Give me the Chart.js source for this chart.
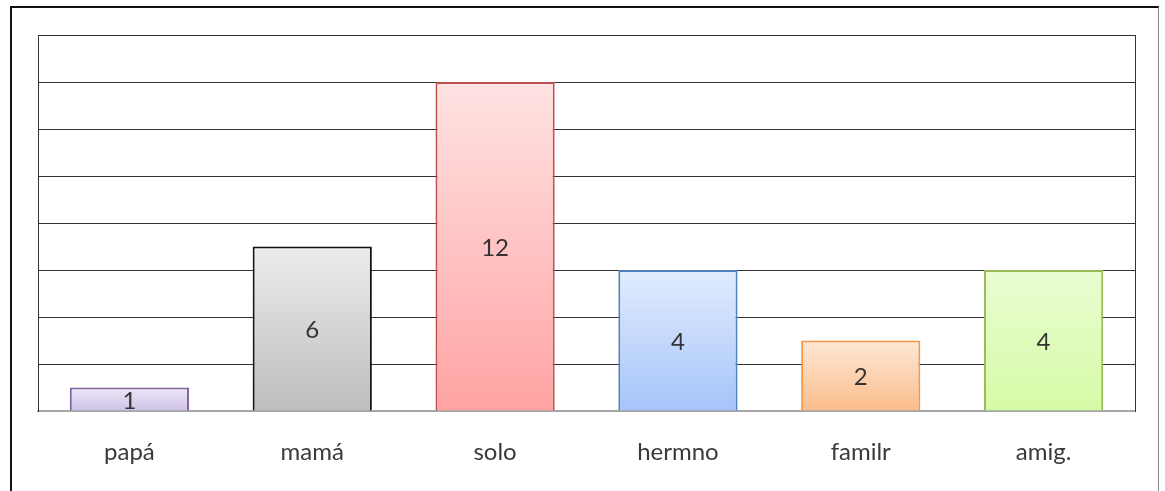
<!DOCTYPE html>
<html>
<head>
<meta charset="utf-8">
<script src="https://cdn.jsdelivr.net/npm/chart.js@4"></script>
<style>
  html, body { margin: 0; padding: 0; background: #fff; }
  #wrap { position: relative; width: 1165px; height: 491px; }
  #frame {
    position: absolute; left: 10px; top: 6px; width: 1149px; height: 490px;
    border-top: 2px solid #111; border-left: 2px solid #111; border-right: 1px solid #888;
    box-sizing: border-box;
  }
  canvas { position: absolute; left: 0; top: 0; }
</style>
</head>
<body>
<div id="wrap">
  <div id="frame"></div>
  <canvas id="chart" width="1165" height="491"></canvas>
</div>
<script>
// categories and values
const categories = ['papá', 'mamá', 'solo', 'hermno', 'familr', 'amig.'];
const barHeights = [1, 7, 14, 6, 3, 6];     // bar heights as drawn (grid step = 2)
const barLabels = ['1', '6', '12', '4', '2', '4']; // numbers printed on the bars
const topColors = ['#ede6f6', '#ececec', '#ffe3e3', '#e2ecfd', '#fde8d6', '#eafcd2'];
const bottomColors = ['#cfc2e8', '#bdbdbd', '#ffa3a3', '#a5c4fa', '#fbbd8b', '#d5fba6'];
const borderColors = ['#8064a2', '#111111', '#c0504d', '#4f81bd', '#f79646', '#9bbb59'];

const FONT = 'Lato, "Open Sans", sans-serif';

// vertical gradient per bar, like the office chart fill
function barFill(ctx) {
    const chart = ctx.chart;
    const y = chart.scales.y;
    if (!chart.chartArea || !y || ctx.dataIndex === undefined) return topColors[0];
    const i = ctx.dataIndex;
    const top = y.getPixelForValue(barHeights[i]);
    const bottom = y.getPixelForValue(0);
    const g = chart.ctx.createLinearGradient(0, top, 0, bottom);
    g.addColorStop(0, topColors[i]);
    g.addColorStop(1, bottomColors[i]);
    return g;
}

const labelPlugin = {
    id: 'barText',
    afterDatasetsDraw(chart) {
        const ctx = chart.ctx;
        const meta = chart.getDatasetMeta(0);
        ctx.save();
        ctx.font = '24px ' + FONT;
        ctx.fillStyle = '#333';
        ctx.textAlign = 'center';
        ctx.textBaseline = 'middle';
        meta.data.forEach((bar, i) => {
            ctx.fillText(barLabels[i], bar.x, (bar.y + bar.base) / 2 + 2);
        });
        ctx.restore();
    }
};

new Chart(document.getElementById('chart'), {
    type: 'bar',
    data: {
        labels: categories,
        datasets: [{
            data: barHeights,
            backgroundColor: barFill,
            borderColor: borderColors,
            borderWidth: 2,
            barPercentage: 0.652,
            categoryPercentage: 1
        }]
    },
    options: {
        responsive: false,
        animation: false,
        layout: { padding: { left: 38, right: 30, top: 35, bottom: 0 } },
        plugins: { legend: { display: false }, tooltip: { enabled: false } },
        scales: {
            x: {
                grid: { display: false, drawTicks: false },
                border: { display: true, color: '#a6a6a6', width: 2 },
                ticks: { color: '#3a3a3a', padding: 27, font: { family: FONT, size: 24 } },
                afterFit(scale) { scale.height = 80; }
            },
            y: {
                min: 0, max: 16,
                ticks: { display: false, stepSize: 2 },
                grid: { color: '#333', lineWidth: 1, drawTicks: false },
                border: { display: true, color: '#333', width: 1 }
            },
            y2: {
                position: 'right',
                min: 0, max: 16,
                ticks: { display: false },
                grid: { display: false, drawTicks: false },
                border: { display: true, color: '#333', width: 1 }
            }
        }
    },
    plugins: [labelPlugin]
});
</script>
</body>
</html>
